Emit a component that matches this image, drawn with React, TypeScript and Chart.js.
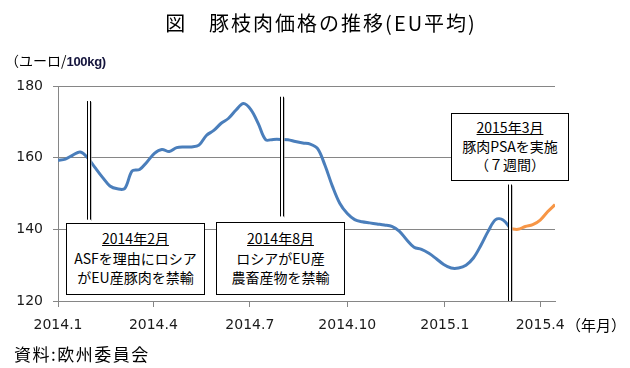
import React, { useEffect, useRef } from "react";
import { Chart, registerables } from "chart.js";

Chart.register(...registerables);

// Weekly EU average pig carcass price (EUR/100kg), from week starting 2014-01-01 (day 0)
const DAYS_PER_WEEK = 7;
const blueValues = [
  159.3, 159.6, 160.7, 161.6, 160.0, 157.2, 154.5, 152.1, 151.3, 151.4,
  156.3, 156.7, 158.8, 161.2, 162.3, 161.7, 162.8, 163.0, 163.0, 163.5,
  166.2, 167.6, 169.6, 171.0, 173.3, 175.1, 173.4, 169.5, 165.0, 165.1,
  165.1, 165.0, 164.5, 164.1, 163.8, 162.5, 157.8, 152.0, 147.2, 144.4,
  142.7, 142.1, 141.8, 141.5, 141.2, 140.8, 139.5, 137.1, 135.0, 134.4,
  133.3, 131.8, 130.2, 129.2, 129.2, 130.0, 132.0, 135.5, 139.5, 142.7,
  142.6, 140.2,
];
// PSA period (continues from the last blue week)
const orangeValues = [140.2, 140.0, 140.8, 141.3, 142.6, 144.9, 146.9];

const tickDays = [0, 90, 181, 273, 365, 455];
const tickLabels = ["2014.1", "2014.4", "2014.7", "2014.10", "2015.1", "2015.4"];

const yMin = 120;
const yMax = 180;
const yStep = 20;

// event markers: day offset, top value, bottom value
const markerDays = [29, 211, 427];
const markerTops = [175.8, 177.0, 152.5];
const markerBottoms = [142.7, 143.6, 120];

const GRID = "#868686";
const BLUE = "#4a7ebb";
const ORANGE = "#f79646";

const markerPlugin = {
  id: "markers",
  afterDatasetsDraw(chart: any) {
    const { ctx, scales } = chart;
    const xs = scales.x;
    const ys = scales.y;
    ctx.save();
    markerDays.forEach((d, i) => {
      const x = Math.round(xs.getPixelForValue(d));
      const y1 = ys.getPixelForValue(markerTops[i]);
      const y2 = ys.getPixelForValue(markerBottoms[i]);
      ctx.fillStyle = "rgba(160,160,160,0.6)";
      ctx.fillRect(x + 2, y1 + 1, 1, y2 - y1);
      ctx.fillStyle = "#fff";
      ctx.fillRect(x - 1, y1, 2, y2 - y1);
      ctx.fillStyle = "#000";
      ctx.fillRect(x - 2, y1, 1, y2 - y1);
      ctx.fillRect(x + 1, y1, 1, y2 - y1);
    });
    ctx.restore();
  },
};

const cjk = '"Noto Sans CJK JP", "Noto Sans", sans-serif';

const boxStyle: React.CSSProperties = {
  position: "absolute",
  boxSizing: "border-box",
  border: "1px solid #000",
  background: "#fff",
  fontFamily: cjk,
  fontSize: 14,
  color: "#000",
  textAlign: "center",
  whiteSpace: "nowrap",
  zIndex: 2,
};

export default function App() {
  const canvasRef = useRef<HTMLCanvasElement | null>(null);

  useEffect(() => {
    document.body.style.margin = "0";
    const canvas = canvasRef.current;
    if (!canvas) return;
    const blueData = blueValues.map((v, i) => ({ x: i * DAYS_PER_WEEK, y: v }));
    const startWeek = blueValues.length - 1;
    const orangeData = orangeValues.map((v, i) => ({
      x: (startWeek + i) * DAYS_PER_WEEK,
      y: v,
    }));
    const lastDay = (startWeek + orangeValues.length - 1) * DAYS_PER_WEEK;

    const chart = new Chart(canvas, {
      type: "line",
      data: {
        datasets: [
          {
            data: blueData,
            borderColor: BLUE,
            borderWidth: 3,
            pointRadius: 0,
            tension: 0.35,
          },
          {
            data: orangeData,
            borderColor: ORANGE,
            borderWidth: 3,
            pointRadius: 0,
            tension: 0.35,
          },
        ],
      },
      options: {
        responsive: false,
        animation: false,
        layout: { padding: { top: 86, right: 75, bottom: 0, left: 0 } },
        plugins: {
          legend: { display: false },
          tooltip: { enabled: false },
          title: { display: false },
        },
        scales: {
          x: {
            type: "linear",
            min: 0,
            max: lastDay,
            afterBuildTicks: (scale: any) => {
              scale.ticks = tickDays.map((v) => ({ value: v }));
            },
            afterFit: (scale: any) => {
              scale.height = 67;
            },
            ticks: {
              autoSkip: false,
              maxRotation: 0,
              padding: 10,
              color: "#1a1a1a",
              font: { family: '"DejaVu Sans"', size: 14 },
              callback: (_v: any, idx: number) => tickLabels[idx],
            },
            grid: {
              drawOnChartArea: false,
              drawTicks: true,
              tickLength: 6,
              color: GRID,
            },
            border: { display: true, color: GRID },
          },
          y: {
            min: yMin,
            max: yMax,
            afterFit: (scale: any) => {
              scale.width = 58;
            },
            ticks: {
              stepSize: yStep,
              padding: 10,
              color: "#1a1a1a",
              font: { family: '"DejaVu Sans"', size: 14 },
            },
            grid: { color: GRID, tickLength: 5 },
            border: { display: true, color: GRID },
          },
        },
      } as any,
      plugins: [markerPlugin],
    });
    return () => chart.destroy();
  }, []);

  return (
    <div style={{ position: "relative", width: 630, height: 368, background: "#fff" }}>
      <canvas ref={canvasRef} width={630} height={368} style={{ position: "absolute", left: 0, top: 0 }} />
      <div
        style={{
          position: "absolute",
          left: 0,
          width: 642,
          top: 10,
          textAlign: "center",
          fontFamily: cjk,
          fontSize: 20,
          letterSpacing: 2,
          lineHeight: "26px",
          color: "#000",
        }}
      >
        図　豚枝肉価格の推移(EU平均)
      </div>
      <div
        style={{
          position: "absolute",
          left: 5,
          top: 50,
          fontFamily: cjk,
          fontSize: 14,
          lineHeight: "20px",
          color: "#000",
          whiteSpace: "nowrap",
        }}
      >
        （ユーロ/
        <span style={{ fontFamily: '"Liberation Sans", sans-serif', fontWeight: "bold", fontSize: 13, color: "#14143c", letterSpacing: -0.3 }}>
          100kg)
        </span>
      </div>
      <div
        style={{
          position: "absolute",
          left: 566,
          top: 315,
          fontFamily: cjk,
          fontSize: 15,
          lineHeight: "20px",
          color: "#000",
          whiteSpace: "nowrap",
        }}
      >
        （年月）
      </div>
      <div
        style={{
          position: "absolute",
          left: 14,
          top: 342,
          fontFamily: cjk,
          fontSize: 17,
          letterSpacing: 1.5,
          lineHeight: "24px",
          color: "#000",
          whiteSpace: "nowrap",
        }}
      >
        資料:欧州委員会
      </div>
      <div style={{ ...boxStyle, left: 66, top: 223, width: 139, height: 72, paddingTop: 5, lineHeight: "19.5px" }}>
        <div style={{ textDecoration: "underline" }}>2014年2月</div>
        <div>ASFを理由にロシア</div>
        <div>がEU産豚肉を禁輸</div>
      </div>
      <div style={{ ...boxStyle, left: 216, top: 222, width: 129, height: 73, paddingTop: 6, lineHeight: "19.5px" }}>
        <div style={{ textDecoration: "underline" }}>2014年8月</div>
        <div>ロシアがEU産</div>
        <div>農畜産物を禁輸</div>
      </div>
      <div style={{ ...boxStyle, left: 451, top: 113, width: 118, height: 68, paddingTop: 4, lineHeight: "18.5px" }}>
        <div style={{ textDecoration: "underline" }}>2015年3月</div>
        <div>豚肉PSAを実施</div>
        <div>（７週間）</div>
      </div>
    </div>
  );
}
